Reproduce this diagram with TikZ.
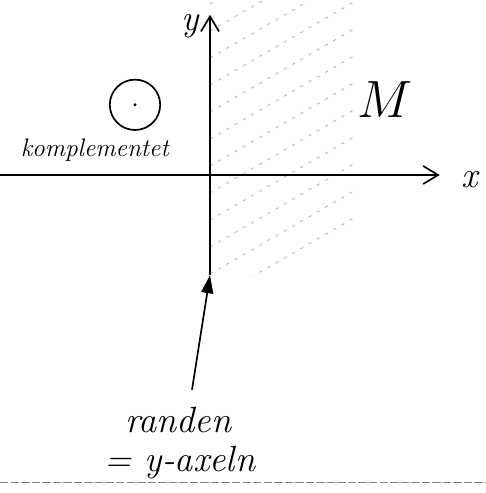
\documentclass[tikz,border=0pt]{standalone}
\usepackage{tikz}
\usetikzlibrary{positioning,arrows.meta}

\begin{document}
\begin{tikzpicture}[
    axis/.style={-{Straight Barb[length=2.5mm,width=3mm]}, thick},
    hatch/.style={gray!60, dash pattern=on 1.5pt off 3pt, thin},
    label/.style={font=\large\itshape},
    biglabel/.style={font=\LARGE\itshape},
    pointer/.style={-{Triangle[length=3mm,width=2mm]}, thick},
]
\useasboundingbox (0,0) rectangle (8.1,8.217);

% hatched half plane
\begin{scope}
\clip (3.5,3.63) rectangle (5.9,8.2);
\foreach \y in {3.2,3.65,...,8.2}
    \draw[hatch] (3.5,\y) -- ++(2.6,1.5);
\end{scope}

\coordinate (O) at (3.5,5.3);
\coordinate (xl) at (0,5.3);
\coordinate (xr) at (7.33,5.3);
\coordinate (yb) at (3.5,3.63);
\coordinate (yt) at (3.5,7.97);

\draw[axis] (xl) -- (xr);
\draw[axis] (yb) -- (yt);
\node[biglabel] (xlab) at (7.83,5.22) {x};
\node[biglabel, anchor=north east, inner sep=1pt] (ylab) at (3.36,8.02) {y};

% ball in the complement
\node[circle, draw, thick, minimum size=0.84cm] (ball) at (2.25,6.47) {};
\fill (ball.center) circle (0.8pt);
\node[label] (kompl) at (1.58,5.72) {komplementet};
\node[font=\Huge] (M) at (6.42,6.55) {$M$};

\node[biglabel] (randen) at (2.97,1.22) {randen};
\node[biglabel] (axeln) at (3.0,0.5) {= y-axeln};
\draw[pointer] (3.2,1.72) -- (yb);

\draw[gray, dash pattern=on 4pt off 1pt] (0,0.17) -- (8.1,0.17);

\end{tikzpicture}
\end{document}
